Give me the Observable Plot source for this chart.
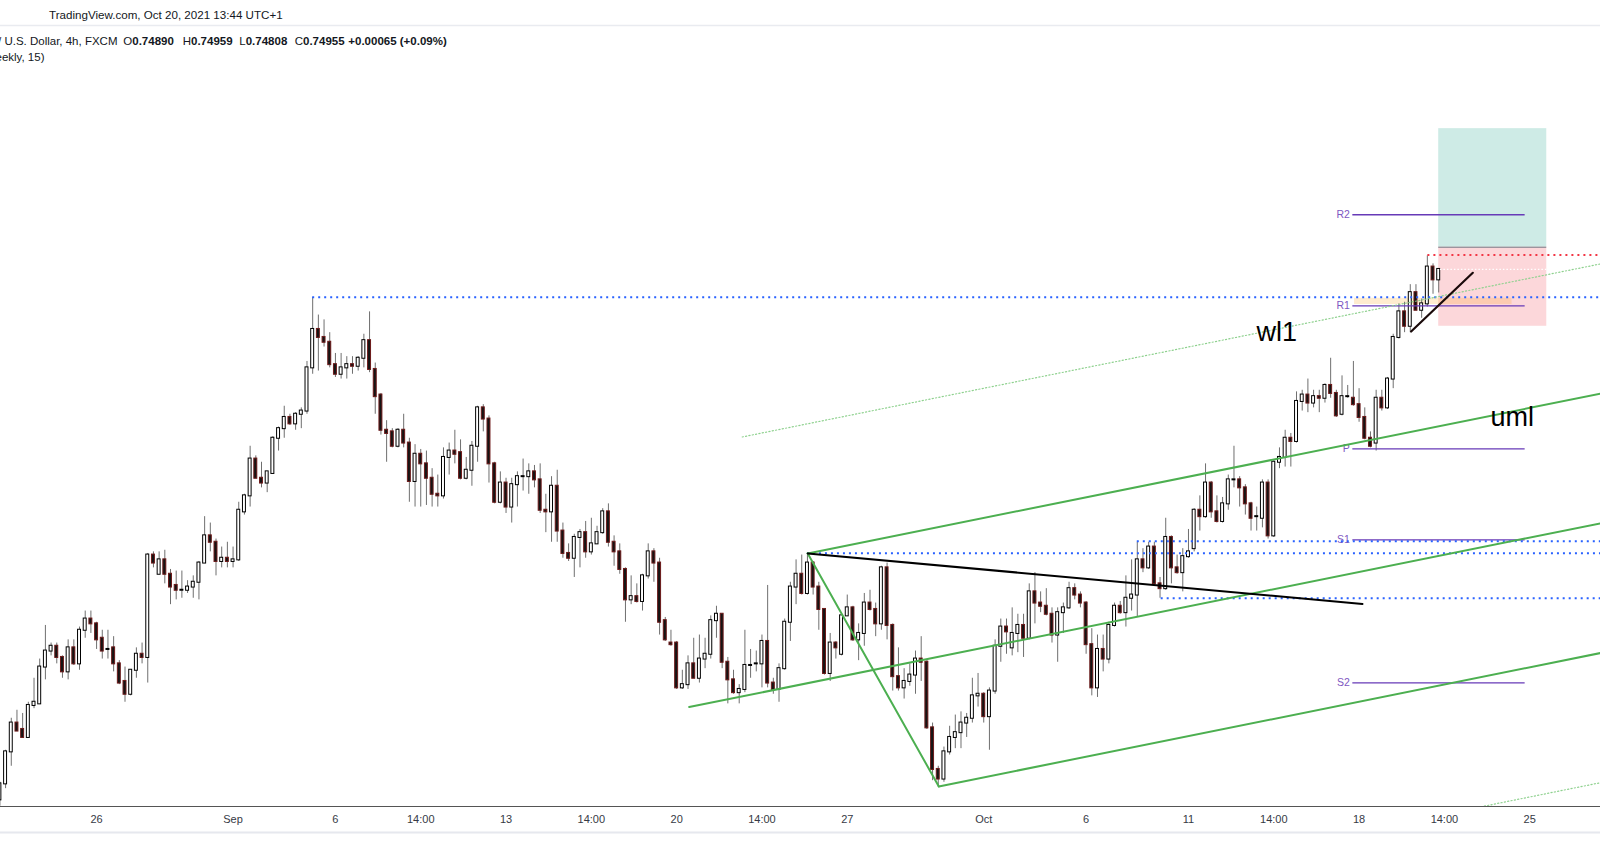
<!DOCTYPE html>
<html><head><meta charset="utf-8">
<script src="https://cdn.jsdelivr.net/npm/d3@7"></script>
<script src="https://cdn.jsdelivr.net/npm/@observablehq/plot@0.6"></script>
<style>html,body{margin:0;padding:0;background:#fff;overflow:hidden}</style>
</head><body><div id="chart"></div>
<script>
// AUD/USD 4h candles (bar index 0..253), prices
const open = [
0.7164,0.7174,0.7194,0.7212,0.7208,0.7203,0.7223,0.7224,0.7247,0.7257,
0.7260,0.7253,0.7244,0.7259,0.7249,0.7270,0.7277,0.7274,0.7265,0.7258,
0.7259,0.7249,0.7238,0.7230,0.7245,0.7255,0.7253,0.7317,0.7305,0.7314,
0.7305,0.7298,0.7295,0.7295,0.7297,0.7300,0.7312,0.7329,0.7325,0.7313,
0.7315,0.7313,0.7314,0.7344,0.7354,0.7377,0.7365,0.7362,0.7368,0.7390,
0.7396,0.7403,0.7399,0.7405,0.7407,0.7434,0.7458,0.7453,0.7450,0.7436,
0.7430,0.7434,0.7436,0.7435,0.7440,0.7451,0.7433,0.7417,0.7395,0.7394,
0.7385,0.7395,0.7387,0.7363,0.7380,0.7374,0.7365,0.7355,0.7354,0.7378,
0.7382,0.7381,0.7365,0.7370,0.7385,0.7409,0.7402,0.7374,0.7350,0.7362,
0.7347,0.7361,0.7366,0.7366,0.7369,0.7364,0.7345,0.7344,0.7360,0.7332,
0.7318,0.7315,0.7328,0.7331,0.7319,0.7324,0.7331,0.7344,0.7325,0.7319,
0.7308,0.7289,0.7291,0.7288,0.7304,0.7319,0.7312,0.7276,0.7262,0.7262,
0.7234,0.7236,0.7249,0.7240,0.7252,0.7255,0.7276,0.7280,0.7250,0.7239,
0.7231,0.7233,0.7248,0.7249,0.7249,0.7263,0.7237,0.7233,0.7246,0.7275,
0.7297,0.7305,0.7293,0.7312,0.7297,0.7283,0.7243,0.7262,0.7255,0.7279,
0.7284,0.7264,0.7268,0.7287,0.7283,0.7274,0.7309,0.7273,0.7241,0.7234,
0.7238,0.7242,0.7252,0.7250,0.7209,0.7183,0.7177,0.7194,0.7203,0.7206,
0.7212,0.7215,0.7229,0.7230,0.7216,0.7232,0.7260,0.7272,0.7259,0.7268,
0.7273,0.7265,0.7294,0.7287,0.7285,0.7280,0.7267,0.7281,0.7284,0.7296,
0.7292,0.7287,0.7261,0.7234,0.7258,0.7252,0.7273,0.7285,0.7281,0.7290,
0.7292,0.7314,0.7309,0.7322,0.7299,0.7296,0.7328,0.7309,0.7306,0.7316,
0.7321,0.7345,0.7341,0.7362,0.7344,0.7338,0.7349,0.7364,0.7364,0.7359,
0.7349,0.7341,0.7340,0.7362,0.7329,0.7375,0.7378,0.7390,0.7388,0.7413,
0.7417,0.7412,0.7416,0.7415,0.7423,0.7418,0.7405,0.7416,0.7415,0.7411,
0.7403,0.7390,0.7387,0.7415,0.7409,0.7427,0.7453,0.7469,0.7460,0.7481,
0.7470,0.7474,0.7497,0.74890];
const high = [
0.7175,0.7195,0.7215,0.7220,0.7218,0.7225,0.7240,0.7252,0.7273,0.7262,
0.7262,0.7254,0.7264,0.7264,0.7272,0.7282,0.7282,0.7275,0.7270,0.7270,
0.7266,0.7251,0.7247,0.7245,0.7259,0.7262,0.7318,0.7319,0.7319,0.7320,
0.7308,0.7307,0.7307,0.7301,0.7304,0.7313,0.7341,0.7337,0.7327,0.7322,
0.7325,0.7322,0.7350,0.7355,0.7385,0.7379,0.7375,0.7369,0.7391,0.7397,
0.7410,0.7405,0.7406,0.7409,0.7438,0.7478,0.7467,0.7464,0.7456,0.7443,
0.7443,0.7441,0.7441,0.7441,0.7455,0.7469,0.7437,0.7418,0.7401,0.7396,
0.7396,0.7405,0.7390,0.7386,0.7383,0.7382,0.7371,0.7367,0.7384,0.7387,
0.7395,0.7389,0.7378,0.7388,0.7410,0.7411,0.7404,0.7375,0.7369,0.7365,
0.7365,0.7369,0.7377,0.7374,0.7373,0.7374,0.7355,0.7366,0.7370,0.7337,
0.7324,0.7330,0.7333,0.7338,0.7340,0.7335,0.7346,0.7349,0.7329,0.7324,
0.7309,0.7304,0.7299,0.7305,0.7324,0.7321,0.7315,0.7278,0.7270,0.7263,
0.7245,0.7254,0.7265,0.7267,0.7265,0.7279,0.7285,0.7280,0.7253,0.7245,
0.7236,0.7270,0.7258,0.7257,0.7267,0.7298,0.7240,0.7249,0.7277,0.7300,
0.7314,0.7317,0.7318,0.7313,0.7300,0.7283,0.7268,0.7263,0.7280,0.7292,
0.7285,0.7274,0.7293,0.7295,0.7287,0.7310,0.7312,0.7274,0.7259,0.7246,
0.7249,0.7257,0.7266,0.7251,0.7212,0.7185,0.7197,0.7210,0.7217,0.7219,
0.7218,0.7240,0.7243,0.7231,0.7234,0.7264,0.7277,0.7277,0.7284,0.7280,
0.7280,0.7299,0.7306,0.7294,0.7296,0.7284,0.7284,0.7287,0.7300,0.7299,
0.7294,0.7288,0.7271,0.7267,0.7267,0.7275,0.7287,0.7288,0.7304,0.7314,
0.7325,0.7321,0.7325,0.7325,0.7303,0.7340,0.7329,0.7317,0.7321,0.7333,
0.7346,0.7354,0.7374,0.7363,0.7354,0.7353,0.7367,0.7385,0.7366,0.7361,
0.7350,0.7347,0.7364,0.7364,0.7376,0.7384,0.7395,0.7393,0.7419,0.7420,
0.7427,0.7420,0.7420,0.7424,0.7440,0.7420,0.7429,0.7423,0.7438,0.7421,
0.7409,0.7394,0.7420,0.7420,0.7428,0.7455,0.7474,0.7475,0.7486,0.7486,
0.7477,0.7504,0.7499,0.74959];
const low = [
0.7160,0.7171,0.7185,0.7207,0.7203,0.7203,0.7221,0.7224,0.7239,0.7254,
0.7249,0.7240,0.7239,0.7248,0.7245,0.7265,0.7268,0.7258,0.7252,0.7252,
0.7244,0.7236,0.7225,0.7229,0.7240,0.7249,0.7237,0.7309,0.7305,0.7299,
0.7286,0.7289,0.7290,0.7293,0.7290,0.7289,0.7312,0.7319,0.7304,0.7309,
0.7309,0.7309,0.7313,0.7342,0.7347,0.7365,0.7359,0.7356,0.7368,0.7382,
0.7390,0.7398,0.7395,0.7396,0.7405,0.7430,0.7432,0.7447,0.7434,0.7428,
0.7427,0.7427,0.7430,0.7432,0.7434,0.7431,0.7405,0.7392,0.7375,0.7384,
0.7384,0.7384,0.7350,0.7347,0.7347,0.7348,0.7347,0.7347,0.7352,0.7367,
0.7374,0.7364,0.7364,0.7360,0.7375,0.7394,0.7362,0.7349,0.7349,0.7343,
0.7337,0.7347,0.7357,0.7355,0.7359,0.7343,0.7331,0.7325,0.7325,0.7315,
0.7313,0.7303,0.7309,0.7315,0.7317,0.7324,0.7330,0.7322,0.7310,0.7305,
0.7275,0.7286,0.7287,0.7282,0.7302,0.7300,0.7267,0.7263,0.7260,0.7233,
0.7233,0.7233,0.7240,0.7237,0.7246,0.7252,0.7265,0.7246,0.7224,0.7230,
0.7224,0.7231,0.7240,0.7244,0.7234,0.7234,0.7230,0.7225,0.7245,0.7263,
0.7286,0.7292,0.7292,0.7292,0.7270,0.7242,0.7238,0.7252,0.7254,0.7279,
0.7263,0.7251,0.7260,0.7282,0.7266,0.7270,0.7264,0.7232,0.7232,0.7227,
0.7235,0.7230,0.7238,0.7208,0.7176,0.7172,0.7175,0.7192,0.7196,0.7196,
0.7203,0.7212,0.7222,0.7212,0.7195,0.7230,0.7250,0.7255,0.7254,0.7256,
0.7253,0.7264,0.7274,0.7281,0.7279,0.7262,0.7250,0.7268,0.7283,0.7289,
0.7284,0.7255,0.7229,0.7228,0.7244,0.7249,0.7272,0.7280,0.7272,0.7282,
0.7278,0.7306,0.7308,0.7298,0.7290,0.7295,0.7299,0.7305,0.7294,0.7315,
0.7319,0.7332,0.7340,0.7340,0.7337,0.7337,0.7345,0.7359,0.7347,0.7342,
0.7332,0.7332,0.7334,0.7327,0.7328,0.7371,0.7372,0.7372,0.7387,0.7407,
0.7406,0.7409,0.7406,0.7412,0.7415,0.7403,0.7404,0.7415,0.7410,0.7400,
0.7389,0.7384,0.7382,0.7407,0.7408,0.7421,0.7452,0.7456,0.7456,0.7470,
0.7465,0.7472,0.7480,0.74808];
const close = [
0.7174,0.7194,0.7212,0.7207,0.7203,0.7223,0.7225,0.7247,0.7257,0.7260,
0.7253,0.7244,0.7259,0.7249,0.7270,0.7277,0.7274,0.7264,0.7257,0.7258,
0.7249,0.7237,0.7230,0.7245,0.7255,0.7253,0.7317,0.7312,0.7314,0.7305,
0.7297,0.7295,0.7295,0.7297,0.7300,0.7312,0.7329,0.7325,0.7313,0.7315,
0.7313,0.7314,0.7345,0.7354,0.7377,0.7365,0.7362,0.7369,0.7390,0.7396,
0.7403,0.7399,0.7405,0.7407,0.7434,0.7458,0.7453,0.7450,0.7436,0.7430,
0.7434,0.7436,0.7435,0.7440,0.7451,0.7433,0.7416,0.7395,0.7393,0.7385,
0.7395,0.7387,0.7363,0.7380,0.7374,0.7365,0.7355,0.7354,0.7378,0.7382,
0.7380,0.7365,0.7370,0.7385,0.7409,0.7402,0.7374,0.7350,0.7362,0.7347,
0.7361,0.7366,0.7366,0.7369,0.7364,0.7345,0.7344,0.7360,0.7332,0.7318,
0.7315,0.7328,0.7331,0.7319,0.7324,0.7331,0.7344,0.7325,0.7319,0.7308,
0.7289,0.7291,0.7288,0.7304,0.7319,0.7312,0.7275,0.7264,0.7261,0.7234,
0.7236,0.7249,0.7240,0.7252,0.7255,0.7276,0.7280,0.7250,0.7239,0.7231,
0.7233,0.7248,0.7248,0.7249,0.7263,0.7237,0.7233,0.7246,0.7275,0.7297,
0.7305,0.7293,0.7312,0.7297,0.7283,0.7243,0.7262,0.7259,0.7279,0.7284,
0.7264,0.7268,0.7287,0.7283,0.7274,0.7309,0.7273,0.7241,0.7234,0.7238,
0.7242,0.7252,0.7250,0.7209,0.7183,0.7177,0.7194,0.7203,0.7206,0.7212,
0.7215,0.7229,0.7230,0.7216,0.7232,0.7260,0.7272,0.7269,0.7268,0.7273,
0.7265,0.7294,0.7287,0.7285,0.7280,0.7267,0.7281,0.7284,0.7296,0.7292,
0.7287,0.7261,0.7234,0.7258,0.7252,0.7273,0.7285,0.7281,0.7290,0.7292,
0.7314,0.7309,0.7322,0.7299,0.7296,0.7328,0.7309,0.7306,0.7316,0.7319,
0.7345,0.7341,0.7362,0.7344,0.7338,0.7349,0.7364,0.7364,0.7359,0.7349,
0.7340,0.7341,0.7362,0.7329,0.7375,0.7378,0.7390,0.7388,0.7413,0.7417,
0.7412,0.7416,0.7415,0.7423,0.7418,0.7404,0.7416,0.7416,0.7411,0.7403,
0.7390,0.7385,0.7415,0.7409,0.7427,0.7453,0.7469,0.7460,0.7481,0.7470,
0.7474,0.7497,0.7489,0.74955];

// time axis: bar index of each label
const tickIndex = [17,41,59,74,89,104,119,134,149,173,191,209,224,239,254,269];
const tickLabels = ["26","Sep","6","14:00","13","14:00","20","14:00","27","Oct","6","11","14:00","18","14:00","25"];

// visible window (bar index / price)
const xDomain = [0.1055, 281.45];
const yDomain = [0.715985, 0.764735];

// drawings
const rays = [
  {i:55, p:0.74782, color:"#2962ff"},
  {i:142, p:0.73182, color:"#2962ff"},
  {i:200, p:0.73257, color:"#2962ff"},
  {i:204.2, p:0.72900, color:"#2962ff"},
  {i:251.1, p:0.75045, color:"#f23645"}
];
const pivotNames = ["R2","R1","P","S1","S2"];
const pivotLevels = [0.75297,0.74728,0.73834,0.73265,0.72371];
const pivotSpan = [237.9, 268.2];
const pfP1 = {i:121.2, p:0.72220};
const pfA = {i:142.05, p:0.73180};
const pfB = {i:165.1, p:0.71724};
const trendBlack = [{i:142.05, p:0.73180}, {i:239.6, p:0.72864}];
const trendShort = [{i:248.15, p:0.74567}, {i:259.0, p:0.74934}];
const position = {i1:253, i2:272, entry:0.75094, target:0.75835, stop:0.74600, last:0.74955};
const band = {i1:238.2, i2:265.9, p1:0.74736, p2:0.74775};
const notes = [{i:220.95, p:0.74511, text:"wl1"}, {i:262.1, p:0.73975, text:"uml"}];

// ---- build
const candles = open.map((o, i) => ({i, o, h: high[i], l: low[i], c: close[i]}));
const labelMap = new Map(tickIndex.map((t, k) => [t, tickLabels[k]]));
const iMax = xDomain[1];
const pfM = {i:(pfA.i + pfB.i) / 2, p:(pfA.p + pfB.p) / 2};
const slope = (pfM.p - pfP1.p) / (pfM.i - pfP1.i);
const ray = pt => [pt, {i: iMax, p: pt.p + slope * (iMax - pt.i)}];
const median = ray(pfP1), upper = ray(pfA), lower = ray(pfB);
const handle = [pfA, pfB];
const warnU = ray({i: 2 * pfA.i - pfM.i, p: 2 * pfA.p - pfM.p});
const warnL = ray({i: 2 * pfB.i - pfM.i, p: 2 * pfB.p - pfM.p});
const pivots = pivotNames.map((n, k) => ({name: n, p: pivotLevels[k]}));
const green = "#4caf50";

const chart = Plot.plot({
  width: 1600, height: 868,
  marginLeft: 0, marginRight: 0, marginTop: 26, marginBottom: 62,
  x: {type: "linear", domain: xDomain, axis: null},
  y: {type: "linear", domain: yDomain, axis: null},
  color: {type: "identity"},
  style: {fontFamily: "'Liberation Sans', Arial, sans-serif", fontSize: "11px", color: "#363a45", background: "#fff", overflow: "hidden"},
  marks: [
    Plot.rect([position], {x1: "i1", x2: "i2", y1: "entry", y2: "target", fill: "rgba(8,153,129,0.2)"}),
    Plot.rect([position], {x1: "i1", x2: "i2", y1: "stop", y2: "entry", fill: "rgba(242,54,69,0.2)"}),
    Plot.ruleY([position], {y: "entry", x1: "i1", x2: "i2", stroke: "#787b86", strokeWidth: 1}),
    Plot.rect([band], {x1: "i1", x2: "i2", y1: "p1", y2: "p2", fill: "rgba(255,152,0,0.19)"}),
    Plot.ruleX(candles, {x: "i", y1: "l", y2: "h", stroke: "#6f6f6f", strokeWidth: 1}),
    Plot.rect(candles, {
      x1: d => d.i - 0.26, x2: d => d.i + 0.26, y1: "o", y2: "c",
      fill: d => d.c >= d.o ? "#ffffff" : "#141414",
      stroke: d => d.c >= d.o ? "#000000" : "#6d1a1a",
      strokeWidth: 1, insetTop: -0.5, insetBottom: -0.5
    }),
    Plot.ruleY([position], {y: "last", x1: d => d.i1 + 0.3, x2: "i2", stroke: "#ffffff", strokeWidth: 1.2, strokeDasharray: "1.5,2"}),
    Plot.ruleY(pivots, {y: "p", x1: () => pivotSpan[0], x2: () => pivotSpan[1], stroke: "#673ab7", strokeWidth: 1.3}),
    Plot.text(pivots, {x: () => pivotSpan[0], y: "p", text: "name", textAnchor: "end", dx: -3, fill: "#7e57c2", fontSize: 10.5}),
    Plot.ruleY(rays, {y: "p", x1: "i", x2: () => iMax, stroke: "color", strokeWidth: 2, strokeDasharray: "2,4"}),
    Plot.line(warnU, {x: "i", y: "p", stroke: "#8fd18f", strokeWidth: 1.2, strokeDasharray: "1.2,2.2", clip: true}),
    Plot.line(warnL, {x: "i", y: "p", stroke: "#8fd18f", strokeWidth: 1.2, strokeDasharray: "1.2,2.2", clip: true}),
    Plot.line(median, {x: "i", y: "p", stroke: green, strokeWidth: 2, clip: true}),
    Plot.line(upper, {x: "i", y: "p", stroke: green, strokeWidth: 2, clip: true}),
    Plot.line(lower, {x: "i", y: "p", stroke: green, strokeWidth: 2, clip: true}),
    Plot.line(handle, {x: "i", y: "p", stroke: green, strokeWidth: 2}),
    Plot.line(trendBlack, {x: "i", y: "p", stroke: "#000", strokeWidth: 2}),
    Plot.line(trendShort, {x: "i", y: "p", stroke: "#1a0a0a", strokeWidth: 2.2}),
    Plot.text(notes, {x: "i", y: "p", text: "text", textAnchor: "start", lineAnchor: "bottom", fontSize: 27, fill: "#000"}),
    Plot.ruleY([yDomain[0]], {stroke: "#555", strokeWidth: 1}),
    Plot.axisX(tickIndex, {tickFormat: d => labelMap.get(d), tickSize: 0, tickPadding: 9, fontSize: 11})
  ]
});

const svg = d3.select(chart);
svg.append("line").attr("x1", 0).attr("x2", 1600).attr("y1", 25.5).attr("y2", 25.5).attr("stroke", "#e9ebf0").attr("stroke-width", 1.5);
svg.append("line").attr("x1", 0).attr("x2", 1600).attr("y1", 832.5).attr("y2", 832.5).attr("stroke", "#e6e8ee").attr("stroke-width", 2);
const font = "'Liberation Sans', Arial, sans-serif";
const txt = (s, x, y, size, weight, anchor) => svg.append("text").text(s).attr("x", x).attr("y", y)
  .attr("font-size", size).attr("font-weight", weight || 400).attr("text-anchor", anchor || "start")
  .attr("fill", "#131722").attr("font-family", font);
// label + bold value in one text element
const field = (label, value, x, y, size) => {
  const t = svg.append("text").attr("x", x).attr("y", y).attr("font-size", size)
    .attr("text-anchor", "start").attr("fill", "#131722").attr("font-family", font);
  t.append("tspan").text(label);
  t.append("tspan").attr("font-weight", 700).text(value);
};
txt("TradingView.com, Oct 20, 2021 13:44 UTC+1", 49, 19, 11.6);
const last = candles[candles.length - 1], prev = candles[candles.length - 2];
const chg = last.c - prev.c;
const y2 = 45.3, fs = 11.5;
txt("Australian Dollar / U.S. Dollar, 4h, FXCM", 117.5, y2, fs, 400, "end");
field("O", last.o.toFixed(5), 123.3, y2, fs);
field("H", last.h.toFixed(5), 182.7, y2, fs);
field("L", last.l.toFixed(5), 239.3, y2, fs);
field("C", last.c.toFixed(5), 294.7, y2, fs);
txt((chg >= 0 ? "+" : "") + chg.toFixed(5) + " (" + (chg >= 0 ? "+" : "") + (chg / prev.c * 100).toFixed(2) + "%)", 348.3, y2, fs, 700);
txt("Pivot Points Standard (Traditional, Weekly, 15)", 44.5, 61.2, fs, 400, "end");

document.getElementById("chart").appendChild(chart);
</script>
</body></html>
